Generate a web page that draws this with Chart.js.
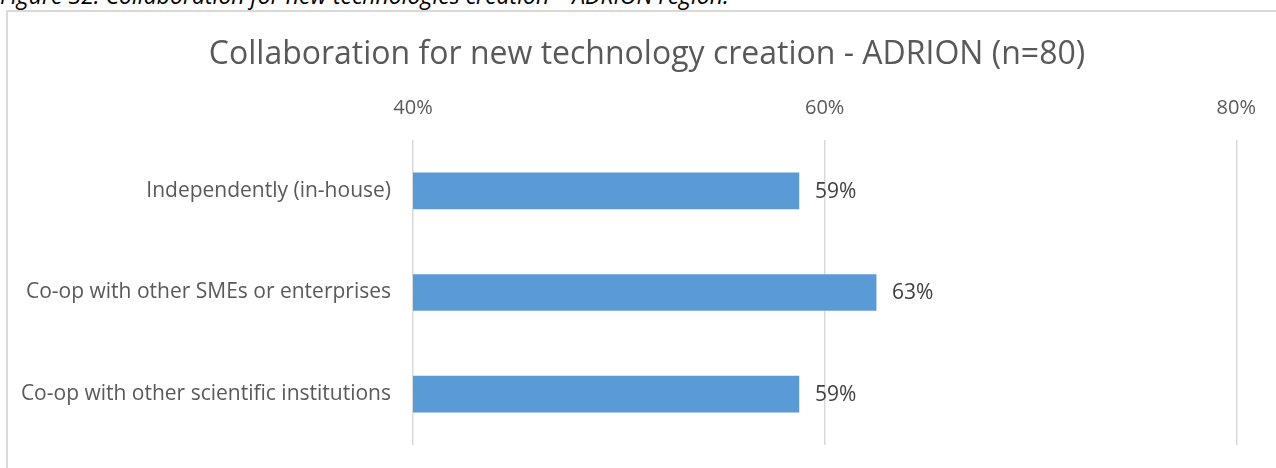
<!DOCTYPE html>
<html lang="en">
<head>
  <meta charset="utf-8">
  <title>Collaboration for new technology creation</title>
  <script src="https://cdn.jsdelivr.net/npm/chart.js@4.4.1/dist/chart.umd.min.js"></script>
  <style>
    html, body { margin: 0; padding: 0; background: #fff; overflow: hidden; }
    #caption {
      position: absolute; left: 0; top: -21px;
      font-family: "Open Sans", sans-serif; font-style: italic; font-size: 23px;
      color: #000; white-space: nowrap;
    }
    #frame {
      position: absolute; left: 6px; top: 10px; width: 1290px; height: 480px;
      border: 2px solid #d9d9d9;
    }
    #wrap { position: absolute; left: 0; top: 0; width: 1276px; height: 468px; }
  </style>
</head>
<body>
  <div id="caption">Figure 32: Collaboration for new technologies creation – ADRION region.</div>
  <div id="frame"></div>
  <div id="wrap"><canvas id="bar_chart"></canvas></div>

  <script>
    var chartTitle = 'Collaboration for new technology creation - ADRION (n=80)';
    var categories = [
      "Independently (in-house)",
      "Co-op with other SMEs or enterprises",
      "Co-op with other scientific institutions"
    ];
    var shares = [58.75, 62.5, 58.75];
    var shareLabels = ["59%", "63%", "59%"];
    var xTicks = [40, 60, 80];

    var FONT = '"Open Sans", sans-serif';

    // title is centred on the whole frame, not on the canvas minus padding
    var frameTitle = {
      id: 'frameTitle',
      afterDraw: function(chart) {
        var ctx = chart.ctx;
        ctx.save();
        ctx.font = '32px ' + FONT;
        ctx.fillStyle = '#595959';
        ctx.textAlign = 'center';
        ctx.textBaseline = 'middle';
        ctx.fillText(chartTitle, 647, 55);
        ctx.restore();
      }
    };

    // value labels to the right of each bar
    var valueLabels = {
      id: 'valueLabels',
      afterDatasetsDraw: function(chart) {
        var ctx = chart.ctx;
        var meta = chart.getDatasetMeta(0);
        ctx.save();
        ctx.font = '21px ' + FONT;
        ctx.fillStyle = '#404040';
        ctx.textAlign = 'left';
        ctx.textBaseline = 'middle';
        meta.data.forEach(function(bar, i) {
          ctx.fillText(shareLabels[i], bar.x + 16, bar.y + 1);
        });
        ctx.restore();
      }
    };

    var chart = new Chart(document.getElementById('bar_chart'), {
      type: 'bar',
      data: {
        labels: categories,
        datasets: [{
          data: shares,
          backgroundColor: '#5b9bd5',
          borderWidth: 0,
          barThickness: 36
        }]
      },
      plugins: [valueLabels, frameTitle],
      options: {
        indexAxis: 'y',
        responsive: true,
        maintainAspectRatio: false,
        animation: false,
        layout: { padding: { top: 77, right: 38, bottom: 23, left: 0 } },
        plugins: {
          legend: { display: false },
          tooltip: { enabled: false },
          title: { display: false }
        },
        scales: {
          x: {
            position: 'top',
            min: 40,
            max: 80,
            afterBuildTicks: function(scale) {
              scale.ticks = xTicks.map(function(v) { return { value: v }; });
            },
            afterFit: function(scale) { scale.height = 63; },
            ticks: {
              color: '#595959',
              font: { family: FONT, size: 20 },
              padding: 20,
              callback: function(v) { return v + '%'; }
            },
            grid: { color: '#d9d9d9', lineWidth: 1.5, drawTicks: false },
            border: { display: false }
          },
          y: {
            afterFit: function(scale) {
              scale.width = 413;
              scale.paddingTop = 0;
              scale.paddingBottom = 0;
            },
            ticks: {
              color: '#595959',
              font: { family: FONT, size: 21 },
              padding: 22
            },
            grid: { display: false, drawTicks: false },
            border: { display: false }
          }
        }
      }
    });
  </script>
</body>
</html>
